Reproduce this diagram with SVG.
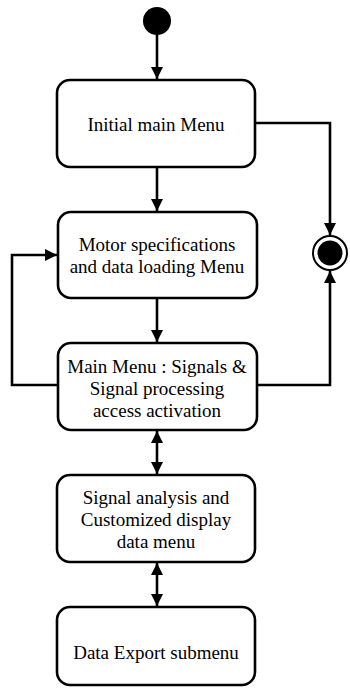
<svg xmlns="http://www.w3.org/2000/svg" width="350" height="696" viewBox="0 0 350 696">
<style>
.box{fill:#fff;stroke:#000;stroke-width:2.6}
.t{font-family:"Liberation Serif","Times New Roman",serif;font-size:19px;fill:#000;text-anchor:middle}
.c{fill:none;stroke:#000;stroke-width:2.6}
</style>
<defs>
<marker id="ah" viewBox="0 0 12 12" refX="12" refY="6" markerWidth="12" markerHeight="12" markerUnits="userSpaceOnUse" orient="auto-start-reverse">
<path d="M0,0 L12,6 L0,12 Z" fill="#000"/>
</marker>
</defs>
<rect width="350" height="696" fill="#fff"/>
<g id="start"><circle cx="157" cy="21" r="14" fill="#000"/></g>
<g id="end"><circle cx="330" cy="253" r="17" fill="#fff" stroke="#000" stroke-width="2"/><circle cx="330" cy="253" r="12.5" fill="#000"/></g>
<g id="n1"><rect class="box" x="57" y="80" width="198" height="87" rx="13"/><text class="t" x="156" y="131">Initial main Menu</text></g>
<g id="n2"><rect class="box" x="58" y="212" width="199" height="86" rx="13"/><text class="t" x="157" y="251">Motor specifications</text><text class="t" x="157" y="273">and data loading Menu</text></g>
<g id="n3"><rect class="box" x="58" y="343" width="199" height="87" rx="13"/><text class="t" x="157" y="373">Main Menu : Signals &amp;</text><text class="t" x="157" y="395">Signal processing</text><text class="t" x="157" y="417">access activation</text></g>
<g id="n4"><rect class="box" x="57" y="475" width="198" height="87" rx="13"/><text class="t" x="156" y="504">Signal analysis and</text><text class="t" x="156" y="526">Customized display</text><text class="t" x="156" y="548">data menu</text></g>
<g id="n5"><rect class="box" x="57" y="607" width="198" height="78" rx="13"/><text class="t" x="156" y="659">Data Export submenu</text></g>
<g id="connectors">
<path class="c" d="M157,35 L157,79" marker-end="url(#ah)"/>
<path class="c" d="M157,167 L157,211" marker-end="url(#ah)"/>
<path class="c" d="M157,298 L157,342" marker-end="url(#ah)"/>
<path class="c" d="M255,123 L330,123 L330,235" marker-end="url(#ah)"/>
<path class="c" d="M257,385 L330,385 L330,271" marker-end="url(#ah)"/>
<path class="c" d="M58,385 L12,385 L12,255 L57,255" marker-end="url(#ah)"/>
<path class="c" d="M157,431 L157,474" marker-start="url(#ah)" marker-end="url(#ah)"/>
<path class="c" d="M157,563 L157,606" marker-start="url(#ah)" marker-end="url(#ah)"/>
</g>
</svg>
